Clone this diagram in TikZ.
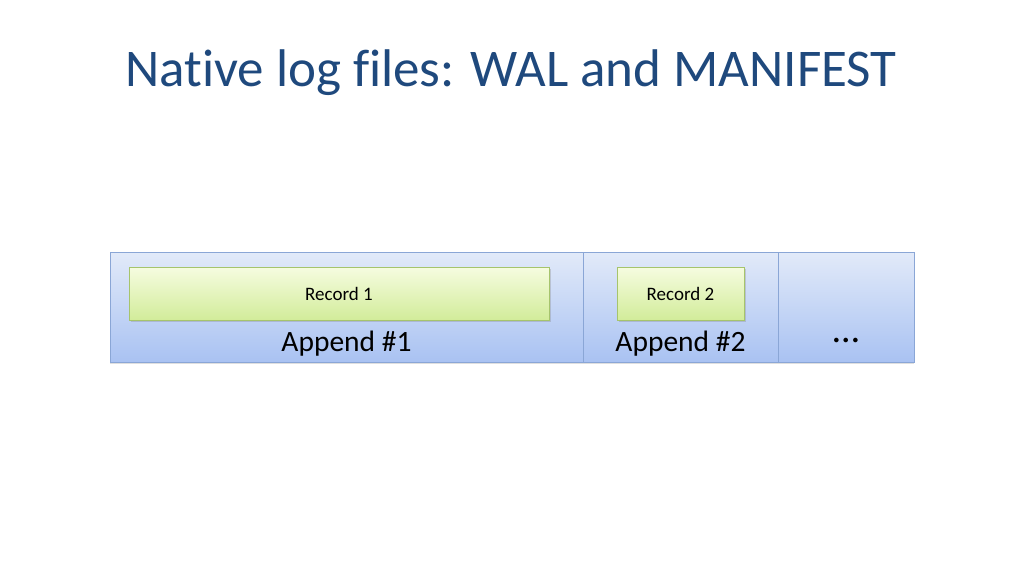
\documentclass[tikz,border=0pt]{standalone}
\usepackage{fontspec}
\setmainfont{Carlito}[Ligatures=NoCommon]
\usetikzlibrary{shadows}
\definecolor{titleblue}{HTML}{1F497D}
\definecolor{apptop}{HTML}{E2EAF9}
\definecolor{appbot}{HTML}{A9C2F2}
\definecolor{appline}{HTML}{8AA6D6}
\definecolor{rectop}{HTML}{F6FCE0}
\definecolor{recbot}{HTML}{D2EC9A}
\definecolor{recline}{HTML}{A6C46C}
\tikzset{
  app/.style={draw=appline, line width=0.8pt, top color=apptop, bottom color=appbot, drop shadow={shadow xshift=0pt,shadow yshift=-2pt,opacity=0.25}},
  rec/.style={draw=recline, line width=0.8pt, top color=rectop, bottom color=recbot, drop shadow={shadow xshift=1.5pt,shadow yshift=-2pt,opacity=0.3}},
  lab/.style={font=\fontsize{29.5}{34}\selectfont, text=black},
  rlab/.style={font=\fontsize{19}{22}\selectfont, text=black}
}
\begin{document}
\begin{tikzpicture}[x=1pt,y=-1pt]
\useasboundingbox (0,0) rectangle (1024,575);
\fill[white] (0,0) rectangle (1024,575);
\node[text=titleblue, font=\fontsize{53}{60}\selectfont] (title) at (511,73) {Native log files: WAL and MANIFEST};
\path[app] (110,252) rectangle (583,362);
\path[app] (583,252) rectangle (778,362);
\path[app] (778,252) rectangle (914,362);
\path[rec] (129,267) rectangle (549,320);
\path[rec] (617,267) rectangle (744,320);
\node[rlab] (r1) at (339,294) {Record 1};
\node[rlab] (r2) at (680.5,294) {Record 2};
\node[lab] (a1) at (346.5,344) {Append \#1};
\node[lab] (a2) at (680.5,344) {Append \#2};
\node[lab, font=\fontsize{38}{42}\selectfont] (a3) at (846,340) {\dots};
\end{tikzpicture}
\end{document}
